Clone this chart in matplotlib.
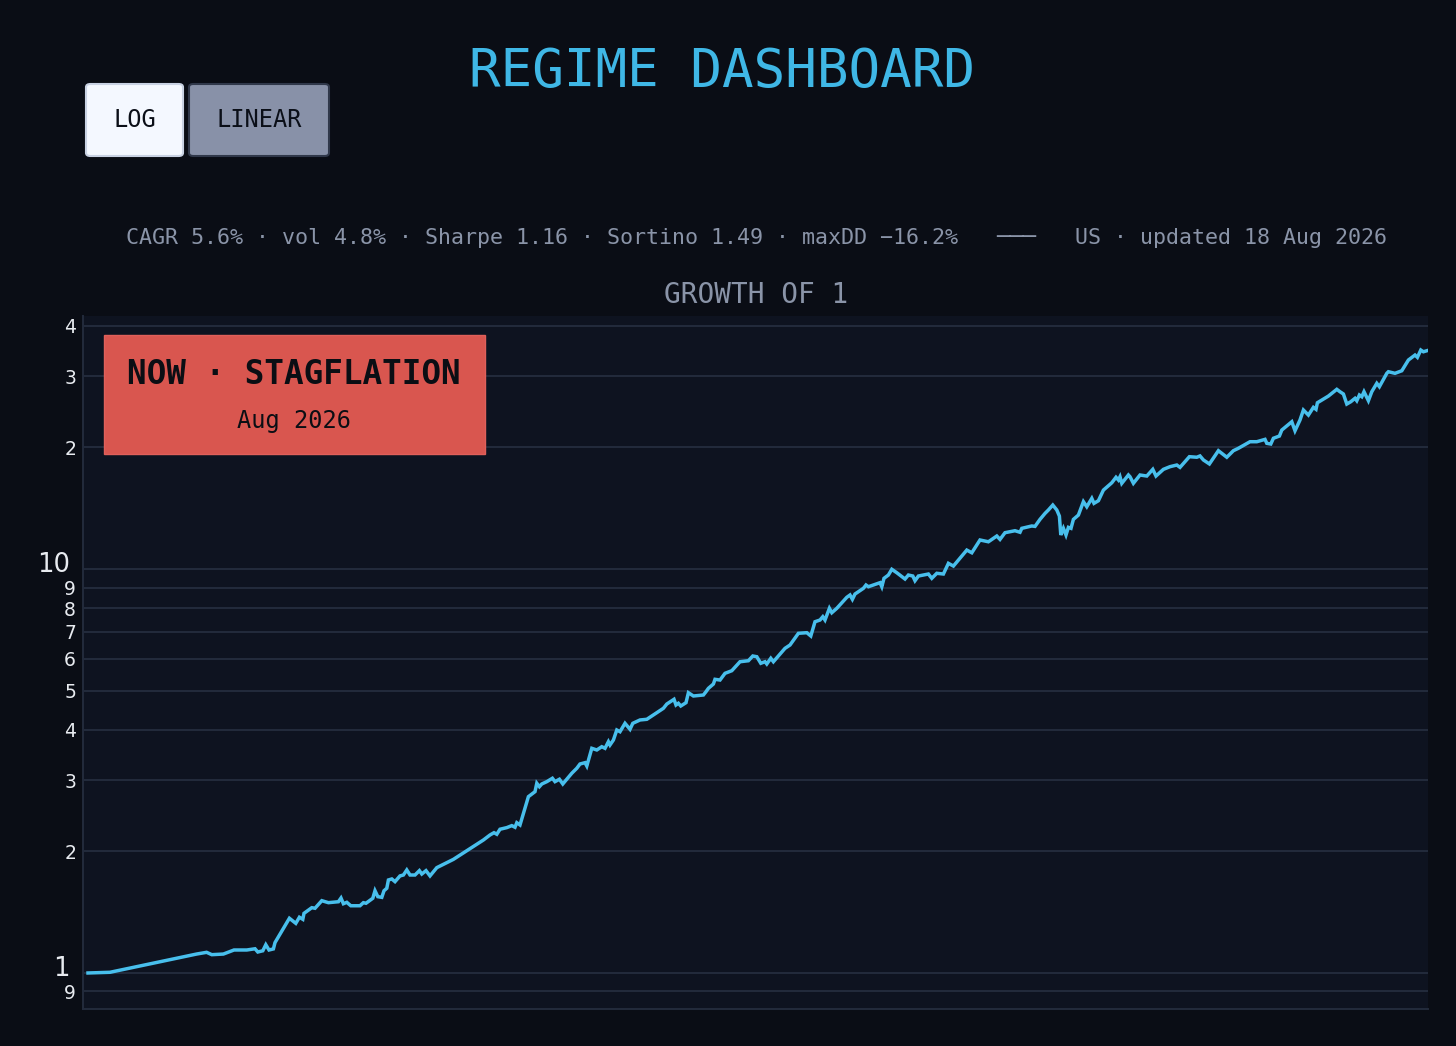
import matplotlib
matplotlib.use("Agg")
import matplotlib.pyplot as plt
from matplotlib.patches import FancyBboxPatch, Rectangle
from matplotlib.ticker import FixedLocator, NullLocator
from matplotlib.transforms import blended_transform_factory, ScaledTranslation

# ---------------- data ----------------
years = [1959.6, 1960.7, 1965.03, 1965.53, 1965.79, 1966.37, 1966.9, 1967.54, 1967.95, 1968.09,
         1968.34, 1968.49, 1968.65, 1968.87, 1968.95, 1969.67, 1969.99, 1970.17, 1970.34, 1970.4,
         1970.79, 1970.95, 1971.29, 1971.62, 1972.12, 1972.25, 1972.37, 1972.54, 1972.74, 1973.2,
         1973.37, 1973.5, 1973.84, 1973.95, 1974.09, 1974.29, 1974.4, 1974.54, 1974.62, 1974.79,
         1974.95, 1975.2, 1975.37, 1975.54, 1975.7, 1975.95, 1976.17, 1976.29, 1976.5, 1976.7,
         1977.04, 1977.87, 1979.37, 1979.7, 1979.9, 1980.04, 1980.2, 1980.54, 1980.79, 1980.95,
         1981.04, 1981.2, 1981.62, 1981.95, 1982.04, 1982.17, 1982.29, 1982.54, 1982.82, 1982.95,
         1983.17, 1983.34, 1983.54, 1983.79, 1984.04, 1984.2, 1984.45, 1984.54, 1984.79, 1985.04,
         1985.29, 1985.45, 1985.62, 1985.7, 1985.87, 1986.04, 1986.2, 1986.45, 1986.7, 1986.84,
         1987.2, 1987.54, 1987.87, 1988.04, 1988.37, 1988.54, 1988.9, 1989.0, 1989.12, 1989.24,
         1989.5, 1989.62, 1989.87, 1990.37, 1990.5, 1990.62, 1990.87, 1990.95, 1991.2, 1991.45,
         1991.79, 1992.2, 1992.62, 1992.84, 1993.04, 1993.24, 1993.45, 1993.54, 1993.74, 1993.87,
         1994.45, 1994.7, 1995.12, 1995.54, 1995.74, 1995.95, 1996.2, 1996.34, 1996.45, 1996.67,
         1996.79, 1997.04, 1997.54, 1997.7, 1997.82, 1997.95, 1998.37, 1998.5, 1998.62, 1999.2,
         1999.29, 1999.4, 1999.62, 1999.79, 2000.04, 2000.45, 2000.62, 2000.84, 2000.95, 2001.12,
         2001.62, 2001.79, 2002.04, 2002.37, 2002.62, 2002.87, 2003.54, 2003.79, 2004.2, 2004.62,
         2005.04, 2005.2, 2005.45, 2005.95, 2006.2, 2006.29, 2006.79, 2006.95, 2007.2, 2007.45,
         2007.62, 2007.84, 2008.04, 2008.17, 2008.24, 2008.37, 2008.5, 2008.62, 2008.75, 2008.87,
         2009.12, 2009.37, 2009.54, 2009.79, 2009.9, 2010.12, 2010.37, 2010.79, 2011.0, 2011.12,
         2011.2, 2011.29, 2011.62, 2011.7, 2011.87, 2012.2, 2012.54, 2012.84, 2013.0, 2013.37,
         2013.7, 2014.04, 2014.2, 2014.67, 2015.04, 2015.2, 2015.37, 2015.67, 2016.12, 2016.54,
         2016.87, 2017.12, 2017.7, 2018.04, 2018.45, 2018.54, 2018.74, 2018.87, 2019.17, 2019.29,
         2019.79, 2019.95, 2020.2, 2020.37, 2020.62, 2020.87, 2021.0, 2021.07, 2021.62, 2022.04,
         2022.2, 2022.37, 2022.54, 2022.74, 2022.95, 2023.04, 2023.17, 2023.29, 2023.4, 2023.62,
         2023.79, 2024.04, 2024.17, 2024.54, 2024.62, 2024.95, 2025.29, 2025.62, 2025.95, 2026.07,
         2026.24, 2026.37, 2026.54]

growth = [1.000, 1.004, 1.114, 1.125, 1.110, 1.114, 1.140, 1.140, 1.148, 1.127,
          1.135, 1.175, 1.140, 1.147, 1.189, 1.366, 1.327, 1.374, 1.358, 1.405,
          1.451, 1.446, 1.510, 1.493, 1.501, 1.533, 1.484, 1.496, 1.467, 1.467,
          1.493, 1.488, 1.531, 1.598, 1.545, 1.539, 1.598, 1.621, 1.699, 1.709,
          1.683, 1.739, 1.748, 1.799, 1.748, 1.748, 1.792, 1.758, 1.792, 1.739,
          1.823, 1.911, 2.134, 2.196, 2.225, 2.205, 2.269, 2.290, 2.316, 2.295,
          2.355, 2.325, 2.732, 2.811, 2.949, 2.892, 2.937, 2.976, 3.034, 2.976,
          3.017, 2.937, 3.017, 3.122, 3.212, 3.291, 3.316, 3.254, 3.599, 3.565,
          3.632, 3.599, 3.737, 3.668, 3.773, 3.995, 3.956, 4.150, 4.011, 4.150,
          4.230, 4.246, 4.351, 4.409, 4.521, 4.632, 4.759, 4.607, 4.652, 4.581,
          4.668, 4.941, 4.849, 4.877, 4.970, 5.066, 5.192, 5.333, 5.311, 5.518,
          5.601, 5.895, 5.929, 6.091, 6.066, 5.843, 5.895, 5.820, 6.012, 5.895,
          6.363, 6.484, 6.932, 6.956, 6.827, 7.405, 7.477, 7.619, 7.477, 7.993,
          7.795, 7.993, 8.511, 8.623, 8.414, 8.672, 8.958, 9.129, 9.041, 9.250,
          9.041, 9.484, 9.663, 9.984, 9.790, 9.446, 9.663, 9.609, 9.355, 9.609,
          9.719, 9.484, 9.759, 9.719, 10.33, 10.17, 11.14, 10.97, 11.80, 11.68,
          12.07, 11.84, 12.30, 12.44, 12.33, 12.61, 12.78, 12.75, 13.27, 13.73,
          14.00, 14.40, 14.00, 13.52, 12.14, 12.61, 12.14, 12.68, 12.61, 13.27,
          13.60, 14.68, 14.26, 14.96, 14.54, 14.76, 15.68, 16.35, 16.87, 16.61,
          16.92, 16.30, 17.09, 16.92, 16.30, 17.09, 16.99, 17.65, 16.99, 17.65,
          17.92, 18.09, 17.85, 18.97, 18.91, 19.05, 18.62, 18.20, 19.63, 18.91,
          19.63, 19.90, 20.66, 20.66, 20.94, 20.47, 20.39, 21.07, 21.34, 22.08,
          23.15, 21.99, 23.38, 24.75, 24.05, 25.13, 24.85, 25.80, 26.80, 27.85,
          27.47, 27.12, 25.61, 25.95, 26.46, 26.10, 26.96, 26.70, 27.47, 26.10,
          27.47, 28.82, 28.27, 30.51, 30.79, 30.51, 30.96, 32.91, 33.86, 33.42,
          34.84, 34.50, 34.70]

y_ticks = [0.9, 1, 2, 3, 4, 5, 6, 7, 8, 9, 10, 20, 30, 40]
y_tick_labels = ["9", "1", "2", "3", "4", "5", "6", "7", "8", "9", "10", "2", "3", "4"]
big_ticks = [1, 10]

title = "REGIME DASHBOARD"
stats = ("CAGR 5.6% \u00b7 vol 4.8% \u00b7 Sharpe 1.16 \u00b7 Sortino 1.49 \u00b7 maxDD \u221216.2%"
         "   \u2500\u2500\u2500   US \u00b7 updated 18 Aug 2026")
subtitle = "GROWTH OF 1"
badge_main = "NOW \u00b7 STAGFLATION"
badge_sub = "Aug 2026"
buttons = ["LOG", "LINEAR"]

# ---------------- style ----------------
W, H = 1456, 1046
PAGE_BG = "#0a0d15"
PLOT_BG = "#0e1320"
GRID = "#232b3c"
LINE = "#48bfec"
TITLE_C = "#3fb7e6"
MUTED = "#8a94a8"
TICK_C = "#e8ebf0"
MONO = ["DejaVu Sans Mono"]
SANS = ["DejaVu Sans"]

plt.rcParams["font.family"] = MONO


def fx(x):
    return x / W


def fy(y):
    return 1 - y / H


fig = plt.figure(figsize=(W / 100, H / 100), dpi=100, facecolor=PAGE_BG)

# plot area
ax_l, ax_r, ax_t, ax_b = 83, 1428, 316, 1009
ax_w = ax_r - ax_l
ax_h = ax_b - ax_t
ax = fig.add_axes([fx(ax_l), fy(ax_b), ax_w / W, ax_h / H])
ax.set_facecolor(PLOT_BG)
ax.set_yscale("log")
ax.plot(years, growth, color=LINE, lw=2.5, solid_joinstyle="miter", zorder=3)
ax.set_xlim(1959.35, 2026.6)
ax.set_ylim(0.8144, 42.3)

ax.yaxis.set_major_locator(FixedLocator(y_ticks))
ax.yaxis.set_minor_locator(NullLocator())
ax.set_yticks(y_ticks)
ax.set_yticklabels([("" if t in big_ticks else lab) for t, lab in zip(y_ticks, y_tick_labels)])
ax.tick_params(axis="y", length=0, pad=5, labelsize=13.5, labelcolor=TICK_C)
for lab in ax.get_yticklabels():
    lab.set_fontfamily(SANS)
# larger labels for the decades, slightly raised, as in the reference
trans = blended_transform_factory(ax.transAxes, ax.transData) + \
    ScaledTranslation(0, 4 / 100, fig.dpi_scale_trans)
for t, lab in zip(y_ticks, y_tick_labels):
    if t in big_ticks:
        ax.text(-13 / ax_w, t, lab, transform=trans, ha="right", va="center",
                fontsize=18.5, color=TICK_C, family=SANS)
ax.xaxis.set_major_locator(NullLocator())
ax.xaxis.set_minor_locator(NullLocator())
ax.grid(True, axis="y", color=GRID, lw=1.4)
ax.set_axisbelow(True)
for s in ["top", "right"]:
    ax.spines[s].set_visible(False)
for s in ["left", "bottom"]:
    ax.spines[s].set_color(GRID)
    ax.spines[s].set_linewidth(1.4)

# badge
bx0, by0, bx1, by1 = 104, 335, 485, 454
badge = Rectangle(((bx0 - ax_l) / ax_w, 1 - (by1 - ax_t) / ax_h),
                  (bx1 - bx0) / ax_w, (by1 - by0) / ax_h,
                  transform=ax.transAxes, facecolor="#d9564f", edgecolor="#e0605a",
                  lw=1.0, zorder=5)
ax.add_patch(badge)
fig.text(fx(294), fy(375), badge_main, ha="center", va="center", fontsize=23.5,
         fontweight="bold", color="#0b0e14", zorder=6)
fig.text(fx(294), fy(421), badge_sub, ha="center", va="center", fontsize=17,
         color="#0b0e14", zorder=6)

# title and texts
fig.text(fx(722), fy(72), title, ha="center", va="center", fontsize=37.8, color=TITLE_C)
fig.text(fx(756), fy(238), stats, ha="center", va="center", fontsize=15.55, color=MUTED)
fig.text(fx(756), fy(295), subtitle, ha="center", va="center", fontsize=20, color=MUTED)

# buttons
btn_specs = [(86, 183, "#f4f8ff", "#c9d2e3"), (189, 329, "#8891a8", "#30384a")]
for (x0, x1, fc, ec), label in zip(btn_specs, buttons):
    y0, y1 = 84, 156
    p = FancyBboxPatch((fx(x0), fy(y1)), fx(x1) - fx(x0), fy(y0) - fy(y1),
                       boxstyle="round,pad=0,rounding_size=0.003",
                       transform=fig.transFigure, facecolor=fc, edgecolor=ec, lw=1.5)
    fig.patches.append(p)
    fig.text(fx((x0 + x1) / 2), fy(120), label, ha="center", va="center",
             fontsize=17, color="#0b0f18")

fig.savefig("out.png", dpi=100, facecolor=PAGE_BG)
